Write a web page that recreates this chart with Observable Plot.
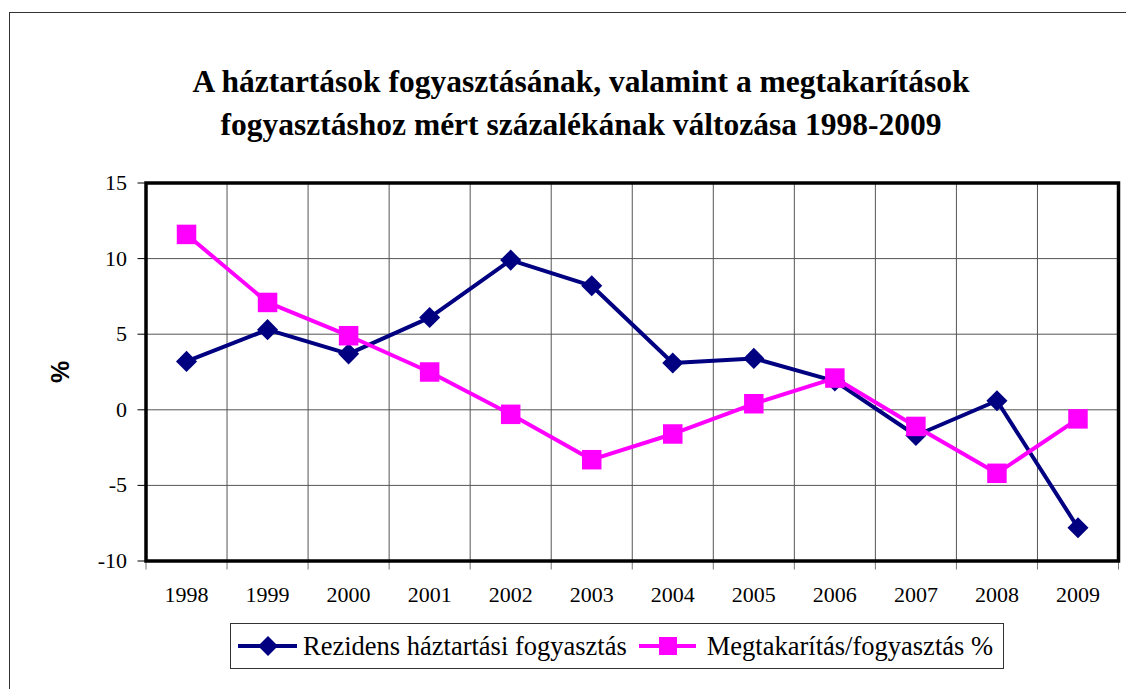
<!DOCTYPE html>
<html>
<head>
<meta charset="utf-8">
<script src="https://cdn.jsdelivr.net/npm/d3@7"></script>
<script src="https://cdn.jsdelivr.net/npm/@observablehq/plot@0.6"></script>
<style>
  html, body { margin: 0; padding: 0; background: #fff; overflow: hidden; }
  #wrap { position: relative; width: 1126px; height: 689px; }
  #border { position: absolute; left: 9px; top: 12px; width: 1200px; height: 800px; border: 1px solid #333; box-sizing: border-box; }
  #title { position: absolute; left: 0; width: 1162px; top: 60px; text-align: center;
           font-family: "Liberation Serif", "DejaVu Serif", serif; font-weight: bold; font-size: 31.5px; line-height: 43px; color: #000; }
  #ylabel { position: absolute; left: 60px; top: 372px; transform: translate(-50%, -50%) rotate(-90deg);
            font-family: "Liberation Sans", Arial, sans-serif; font-weight: bold; font-size: 25px; color: #000; white-space: nowrap; }
  #legend { position: absolute; left: 230px; top: 623px; width: 774px; height: 46px; border: 1px solid #333;
            box-sizing: border-box; display: flex; align-items: center;
            font-family: "Liberation Serif", "DejaVu Serif", serif; font-size: 26.5px; color: #000; white-space: nowrap; }
  #legend .item { display: flex; align-items: center; }
  #legend svg { display: block; }
  #chart { position: absolute; left: 0; top: 0; }
  #chart text { font-family: "Liberation Serif", "DejaVu Serif", serif; }
</style>
</head>
<body>
<div id="wrap">
  <div id="border"></div>
  <div id="chart"></div>
  <div id="title"></div>
  <div id="ylabel"></div>
  <div id="legend"></div>
</div>
<script>
const titleLines = ["A háztartások fogyasztásának, valamint a megtakarítások",
                    "fogyasztáshoz mért százalékának változása 1998-2009"];
const yLabel = "%";
const years = ["1998","1999","2000","2001","2002","2003","2004","2005","2006","2007","2008","2009"];
const consumption = [3.2, 5.3, 3.7, 6.1, 9.9, 8.2, 3.1, 3.4, 1.9, -1.7, 0.6, -7.8];
const savings = [11.6, 7.1, 4.9, 2.5, -0.3, -3.3, -1.6, 0.4, 2.1, -1.1, -4.2, -0.6];
const seriesNames = ["Rezidens háztartási fogyasztás", "Megtakarítás/fogyasztás %"];
const seriesColors = ["#000080", "#FF00FF"];
const yTicks = [-10, -5, 0, 5, 10, 15];

const rows = years.map((y, i) => ({i, year: y, cons: consumption[i], sav: savings[i]}));
const idx = years.map((_, i) => i);
const bounds = [...idx.map(i => i - 0.5), years.length - 0.5];
const innerBounds = bounds.slice(1, -1);

document.getElementById("title").innerHTML = titleLines.join("<br>");
document.getElementById("ylabel").textContent = yLabel;

const serif = '"Liberation Serif", "DejaVu Serif", serif';

const chart = Plot.plot({
  width: 1126,
  height: 689,
  marginLeft: 145.5,
  marginRight: 8,
  marginTop: 182.5,
  marginBottom: 128.5,
  style: {fontFamily: serif, background: "transparent", overflow: "visible"},
  x: {type: "linear", domain: [-0.5, years.length - 0.5], axis: null},
  y: {domain: [-10, 15], axis: null},
  marks: [
    Plot.ruleY(yTicks.slice(1, -1), {stroke: "#555", strokeWidth: 1}),
    Plot.ruleX(innerBounds, {stroke: "#555", strokeWidth: 1}),
    Plot.axisY({ticks: yTicks, tickSize: 8, tickPadding: 11, fontSize: 22, stroke: "#000", fill: "#000",
                tickFormat: d => String(d), label: null}),
    Plot.axisX({ticks: bounds, tickSize: 9, tickFormat: () => "", stroke: "#777", label: null}),
    Plot.axisX({ticks: idx, tickSize: 0, tickPadding: 25, fontSize: 22, fill: "#000",
                tickFormat: i => years[i], label: null}),
    Plot.line(rows, {x: "i", y: "cons", stroke: seriesColors[0], strokeWidth: 4}),
    Plot.dot(rows, {x: "i", y: "cons", symbol: "diamond2", r: 9.5, fill: seriesColors[0], stroke: null}),
    Plot.line(rows, {x: "i", y: "sav", stroke: seriesColors[1], strokeWidth: 4}),
    Plot.dot(rows, {x: "i", y: "sav", symbol: "square", r: 11, fill: seriesColors[1], stroke: null}),
    Plot.frame({stroke: "#000", strokeWidth: 3.5})
  ]
});
document.getElementById("chart").appendChild(chart);

// legend
const legend = document.getElementById("legend");
const swatchPaths = [
  c => `<line x1="0" y1="12" x2="59" y2="12" stroke="${c}" stroke-width="4"/><path d="M30,2 L40,12 L30,22 L20,12 Z" fill="${c}"/>`,
  c => `<line x1="0" y1="12" x2="57" y2="12" stroke="${c}" stroke-width="4"/><rect x="20" y="3" width="18" height="18" fill="${c}"/>`
];
const margins = [[7, 5], [12, 8]];
seriesNames.forEach((name, k) => {
  const item = document.createElement("div");
  item.className = "item";
  item.style.marginLeft = margins[k][0] + "px";
  item.innerHTML = `<svg width="60" height="24" style="margin-right:${margins[k][1]}px">${swatchPaths[k](seriesColors[k])}</svg><span>${name}</span>`;
  legend.appendChild(item);
});
</script>
</body>
</html>
